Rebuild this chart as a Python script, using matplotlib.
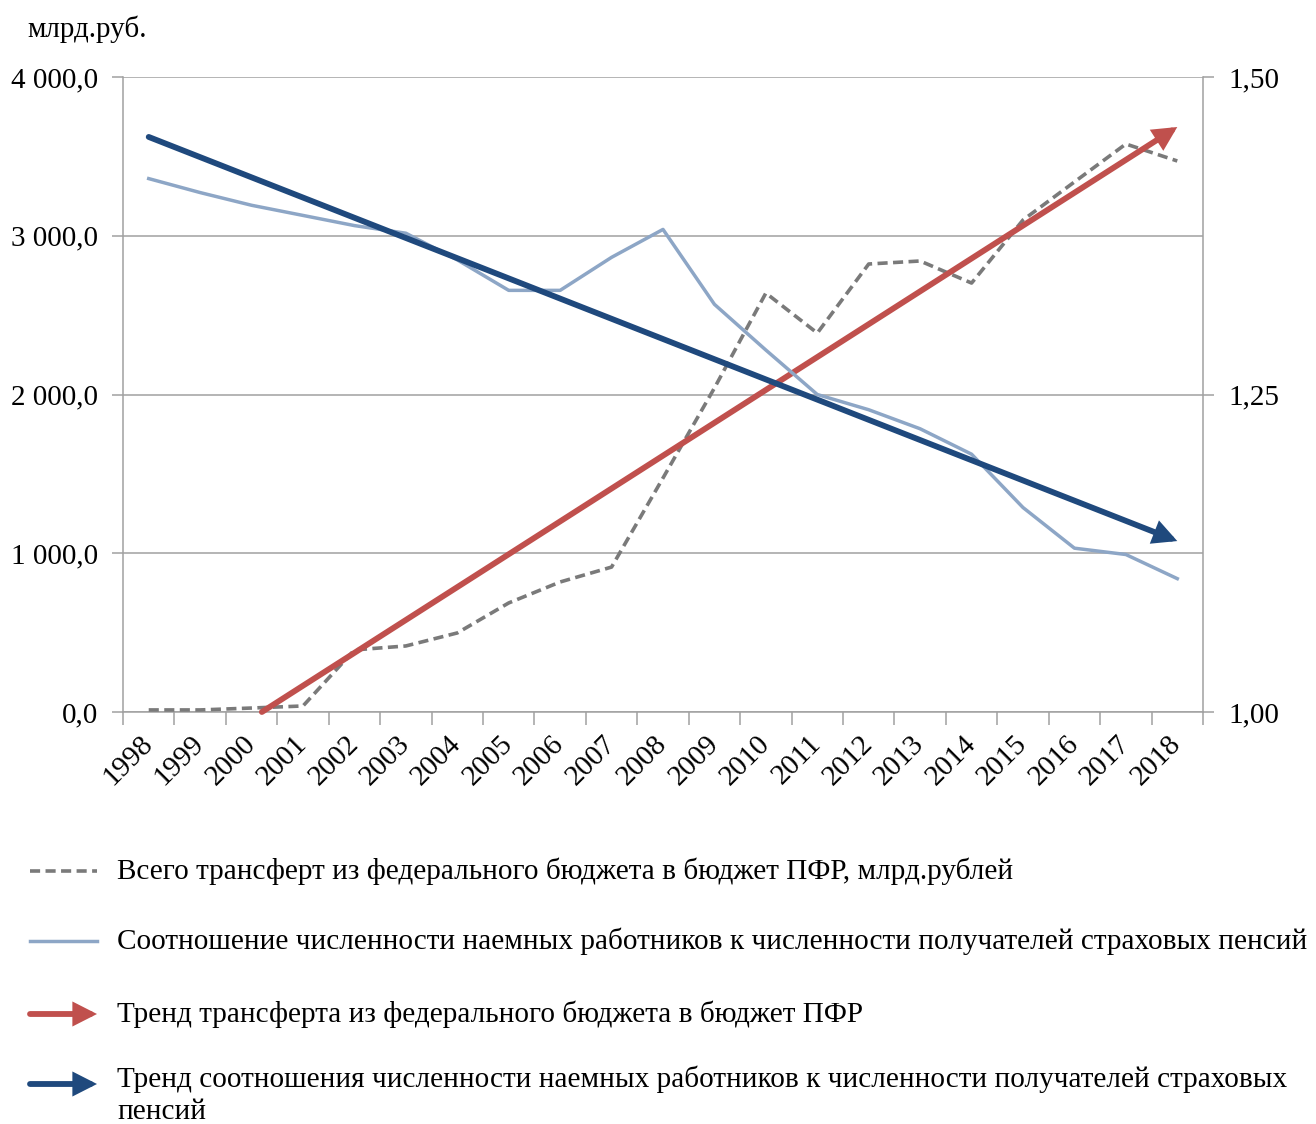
import matplotlib
matplotlib.use('Agg')
import matplotlib.pyplot as plt
from matplotlib.lines import Line2D
from matplotlib.patches import FancyArrowPatch
from matplotlib.ticker import FixedLocator

plt.rcParams['font.family'] = ['Liberation Serif', 'DejaVu Serif']

# ---- data ----
years = [str(y) for y in range(1998, 2019)]
transfer = [13, 13, 25, 38, 391, 416, 498, 687, 819, 913, 1474, 2041,
            2639, 2387, 2822, 2841, 2702, 3099, 3339, 3578, 3471]
ratio = [1.420, 1.409, 1.399, 1.391, 1.383, 1.377, 1.356, 1.332, 1.332, 1.358,
         1.380, 1.321, 1.285, 1.250, 1.238, 1.223, 1.203, 1.161, 1.129, 1.124, 1.105]
# trend arrows: (x index, value) start and end
transfer_trend = [(2.2, 0.0), (20.0, 3685.0)]
ratio_trend = [(0.0, 1.4528), (20.0, 1.1346)]

left_ticks = [0, 1000, 2000, 3000, 4000]
left_labels = ['0,0', '1 000,0', '2 000,0', '3 000,0', '4 000,0']
right_ticks = [1.00, 1.25, 1.50]
right_labels = ['1,00', '1,25', '1,50']

legend_labels = [
    'Всего трансферт из федерального бюджета в бюджет ПФР, млрд.рублей',
    'Соотношение численности наемных работников к численности получателей страховых пенсий',
    'Тренд трансферта из федерального бюджета в бюджет ПФР',
    'Тренд соотношения численности наемных работников к численности получателей страховых',
    'пенсий',
]

# ---- styles ----
GRAY = '#7A7A7A'
LIGHT = '#8DA6C6'
RED = '#C0504D'
DARK = '#1F497D'
AXC = '#A0A0A0'
FS = 21
W, H = 1316, 1124

fig = plt.figure(figsize=(W / 100, H / 100), dpi=100)
ax = fig.add_axes([123 / W, 1 - 712 / H, 1080 / W, 635 / H])
ax2 = ax.twinx()

x = list(range(len(years)))

ax.plot(x, transfer, color=GRAY, lw=2.6, dashes=(2.8, 1.5), zorder=3)
ax2.plot(x, ratio, color=LIGHT, lw=2.5, zorder=3)

arrow_style = '-|>,head_length=0.55,head_width=0.28'
ax.annotate('', xy=transfer_trend[1], xytext=transfer_trend[0],
            arrowprops=dict(arrowstyle=arrow_style, color=RED, lw=4.2,
                            shrinkA=0, shrinkB=0, mutation_scale=20,
                            joinstyle='miter'),
            zorder=4)
ax2.annotate('', xy=ratio_trend[1], xytext=ratio_trend[0],
             arrowprops=dict(arrowstyle=arrow_style, color=DARK, lw=4.2,
                             shrinkA=0, shrinkB=0, mutation_scale=20,
                             joinstyle='miter'),
             zorder=4)

# axes limits
ax.set_xlim(-0.5, len(years) - 0.5)
ax.set_ylim(0, 4000)
ax2.set_ylim(1.0, 1.5)

# left axis
ax.set_yticks(left_ticks)
ax.set_yticklabels(left_labels, fontsize=FS)
ax.yaxis.grid(True, color=AXC, lw=1.1)
ax.set_axisbelow(True)
ax.tick_params(axis='y', length=8, width=1.1, color=AXC, pad=10)

# right axis
ax2.set_yticks(right_ticks)
ax2.set_yticklabels(right_labels, fontsize=FS)
ax2.tick_params(axis='y', length=8, width=1.1, color=AXC, pad=10)

# x axis: ticks on the boundaries, labels at the centres
ax.xaxis.set_major_locator(FixedLocator([i - 0.5 for i in range(len(years) + 1)]))
ax.xaxis.set_major_formatter(plt.NullFormatter())
ax.set_xticks(x, minor=True)
ax.set_xticklabels(years, minor=True, fontsize=FS, rotation=45,
                   ha='right', va='center', rotation_mode='anchor')
ax.tick_params(axis='x', which='major', length=9, width=1.1, color=AXC)
ax.tick_params(axis='x', which='minor', length=0, pad=20)

for s in ['top', 'right']:
    ax.spines[s].set_visible(False)
for s in ['top', 'left', 'bottom']:
    ax2.spines[s].set_visible(False)
for s in ['left', 'bottom']:
    ax.spines[s].set_color(AXC)
    ax.spines[s].set_linewidth(1.1)
ax2.spines['right'].set_color(AXC)
ax2.spines['right'].set_linewidth(1.1)

# unit label
fig.text(27 / W, 1 - 29 / H, 'млрд.руб.', fontsize=FS, va='center', ha='left')

# ---- legend drawn by hand below the chart ----
def fx(px):
    return px / W

def fy(py):
    return 1 - py / H

fig.add_artist(Line2D([fx(30), fx(97)], [fy(871), fy(871)], color=GRAY, lw=2.6,
                      dashes=(2.8, 1.5), transform=fig.transFigure))
fig.add_artist(Line2D([fx(30), fx(97)], [fy(941), fy(941)], color=LIGHT, lw=2.5,
                      transform=fig.transFigure))
for py, col in [(1014, RED), (1084, DARK)]:
    fig.add_artist(FancyArrowPatch((fx(30), fy(py)), (fx(97), fy(py)),
                                   arrowstyle=arrow_style, color=col, lw=4.2,
                                   mutation_scale=20, shrinkA=0, shrinkB=0,
                                   joinstyle='miter', transform=fig.transFigure))

for py, txt in zip([871, 941, 1014, 1079, 1112], legend_labels):
    fig.text(fx(117), fy(py), txt, fontsize=21.1, va='center', ha='left')

fig.savefig('out.png', dpi=100)
